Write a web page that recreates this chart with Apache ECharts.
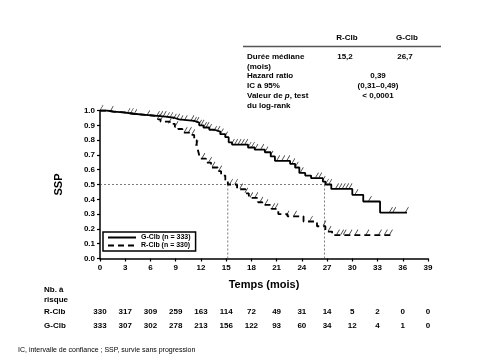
<!DOCTYPE html>
<html><head><meta charset="utf-8">
<script src="https://cdn.jsdelivr.net/npm/echarts@6/dist/echarts.min.js"></script>
<style>html,body{margin:0;padding:0;background:#fff}#c{width:480px;height:360px}</style>
</head><body><div id="c"></div>
<script>
// ---- data ----
const gClb = [[0,1],[0.8,0.993],[1.6,0.987],[2.8,0.978],[4,0.971],[5.4,0.964],[6.8,0.958],[7.8,0.951],[8.8,0.94],[9.4,0.93],[11.2,0.918],[11.8,0.9],[12.3,0.885],[13,0.87],[13.6,0.858],[14.3,0.84],[14.9,0.82],[15.3,0.785],[15.7,0.77],[17.6,0.75],[18.4,0.735],[19.6,0.718],[20.3,0.69],[20.8,0.66],[22.6,0.64],[23.2,0.615],[23.7,0.578],[24.4,0.56],[25.1,0.543],[26.5,0.52],[26.8,0.5],[27.5,0.47],[30,0.43],[31.3,0.385],[33.3,0.31],[36.5,0.31]];
const rClb = [[0,1],[0.8,0.993],[1.6,0.987],[2.8,0.978],[4,0.971],[5.4,0.964],[6.6,0.955],[6.9,0.94],[7.2,0.925],[8.3,0.91],[8.9,0.89],[9.3,0.875],[9.8,0.85],[10.8,0.835],[11.2,0.8],[11.5,0.76],[11.7,0.72],[11.9,0.675],[12.6,0.648],[13.2,0.615],[14.0,0.59],[14.4,0.56],[14.9,0.53],[15.2,0.5],[16.3,0.468],[17.3,0.44],[17.7,0.41],[18.8,0.38],[19.3,0.362],[20.4,0.335],[21.2,0.30],[22.3,0.285],[24.2,0.25],[25.8,0.218],[26.8,0.182],[27.6,0.158],[34.8,0.158]];
const gCensor = [0.2,1.4,3.4,3.8,4.2,5.75,6.9,7.3,7.7,8.1,8.5,8.9,9.3,9.7,10.2,11.0,11.3,11.6,11.9,12.2,12.5,12.8,13.1,13.7,14.1,14.5,15.0,15.8,16.2,16.6,17.0,17.4,17.8,18.2,18.6,19.3,19.8,20.4,21.2,21.8,22.4,23.0,23.4,24.0,25.8,26.2,26.6,27.0,27.4,28.2,28.6,29.0,29.4,29.8,30.5,32.1,34.6,35.0,36.5];
const rCensor = [7.0,7.3,8.3,9.1,10.2,10.7,11.1,11.5,12.3,13.1,13.5,14.3,15.6,16.2,16.8,17.4,18.0,18.6,19.2,19.8,20.6,21.0,22.3,23.2,25.1,26.7,27.3,28.3,28.8,29.1,29.8,30.5,31.8,33.3,34.0,34.6];
const medianR = 15.2, medianG = 26.7;
const xTicks = [0,3,6,9,12,15,18,21,24,27,30,33,36,39];
const riskR = [330,317,309,259,163,114,72,49,31,14,5,2,0,0];
const riskG = [333,307,302,278,213,156,122,93,60,34,12,4,1,0];
const groups = ['G-Clb (n = 333)','R-Clb (n = 330)'];
const tableHead = ['R-Clb','G-Clb'];
const medians = ['15,2','26,7'];

function survAt(curve, t){ let s = curve[0][1]; for (const p of curve){ if (p[0] <= t) s = p[1]; } return s; }

const F = 'Liberation Sans, Arial, sans-serif';
const chart = echarts.init(document.getElementById('c'), null, {renderer:'canvas'});
const tick = 'path://M0,10L4,0';
const option = {
  animation:false,
  backgroundColor:'#fff',
  grid:{left:100, right:52, top:110.5, bottom:101.5},
  xAxis:{type:'value', min:0, max:39, interval:3,
    name:'Temps (mois)', nameLocation:'middle', nameGap:21,
    nameTextStyle:{fontFamily:F, fontWeight:'bold', fontSize:11, color:'#000'},
    axisLine:{lineStyle:{color:'#000', width:1.5}},
    axisTick:{length:3, lineStyle:{color:'#000', width:1.2}},
    axisLabel:{fontFamily:F, fontWeight:'bold', fontSize:8, color:'#000', margin:5},
    splitLine:{show:false}},
  yAxis:{type:'value', min:0, max:1, interval:0.1,
    name:'SSP', nameLocation:'middle', nameGap:36, nameRotate:90,
    nameTextStyle:{fontFamily:F, fontWeight:'bold', fontSize:11, color:'#000'},
    axisLine:{show:true, lineStyle:{color:'#000', width:1.5}},
    axisTick:{show:true, length:3, lineStyle:{color:'#000', width:1.2}},
    axisLabel:{fontFamily:F, fontWeight:'bold', fontSize:8, color:'#000', margin:5, formatter:v=>v.toFixed(1)},
    splitLine:{show:false}},
  legend:{data:groups, orient:'vertical', left:103, top:232, itemWidth:28, itemHeight:6, itemGap:1,
    padding:[2,5,2,4], borderColor:'#000', borderWidth:1.5, backgroundColor:'#fff',
    itemStyle:{opacity:0},
    textStyle:{fontFamily:F, fontWeight:'bold', fontSize:7, color:'#000'}},
  series:[
    {name:'ref', type:'line', data:[[0,0.5],[medianG,0.5]], symbol:'none', silent:true,
      lineStyle:{color:'#444', width:0.7, type:[2,2]}},
    {name:'ref2', type:'line', data:[[medianR,0],[medianR,0.5]], symbol:'none', silent:true,
      lineStyle:{color:'#444', width:0.7, type:[2,2]}},
    {name:'ref3', type:'line', data:[[medianG,0],[medianG,0.5]], symbol:'none', silent:true,
      lineStyle:{color:'#444', width:0.7, type:[2,2]}},
    {name:groups[0], type:'line', step:'end', data:gClb, symbol:'none', color:'#000',
      lineStyle:{color:'#000', width:1.8}},
    {name:groups[1], type:'line', step:'end', data:rClb, symbol:'none', color:'#000',
      lineStyle:{color:'#000', width:1.8, type:[6,4]}},
    {name:'gc', type:'scatter', data:gCensor.map(t=>[t, survAt(gClb,t)]), symbol:tick, symbolSize:[3,5], symbolOffset:[0,-3],
      itemStyle:{color:'none', borderColor:'#000', borderWidth:0.8}, silent:true},
    {name:'rc', type:'scatter', data:rCensor.map(t=>[t, survAt(rClb,t)]), symbol:tick, symbolSize:[3,5], symbolOffset:[0,-3],
      itemStyle:{color:'none', borderColor:'#000', borderWidth:0.8}, silent:true}
  ]
};
chart.setOption(option);

// ---- text elements ----
const g = [];
function txt(x,y,s,opt){ g.push({type:'text', x:x, y:y, style:Object.assign({text:s, fontFamily:F, fontSize:8, fontWeight:'bold', fill:'#000', textVerticalAlign:'middle'}, opt||{})}); }
// summary table
txt(347,38,tableHead[0],{textAlign:'center'});
txt(407,38,tableHead[1],{textAlign:'center'});
g.push({type:'line', shape:{x1:243,y1:46.5,x2:441,y2:46.5}, style:{stroke:'#555', lineWidth:1.3}});
txt(247,57,'Durée médiane');
txt(247,67,'(mois)');
txt(345,57,medians[0],{textAlign:'center'});
txt(405,57,medians[1],{textAlign:'center'});
txt(247,75.5,'Hazard ratio');
txt(378,75.5,'0,39',{textAlign:'center'});
txt(247,85.5,'IC à 95%');
txt(378,85.5,'(0,31–0,49)',{textAlign:'center'});
g.push({type:'text', x:247, y:96, style:{rich:{a:{fontFamily:F,fontSize:8,fontWeight:'bold',fill:'#000'}, i:{fontFamily:F,fontSize:8,fontWeight:'bold',fontStyle:'italic',fill:'#000'}}, text:'{a|Valeur de }{i|p}{a|, test}', textVerticalAlign:'middle'}});
txt(247,106,'du log-rank');
txt(378,96,'< 0,0001',{textAlign:'center'});
// risk table
txt(44,290,'Nb. à');
txt(44,300,'risque');
txt(44,312,'R-Clb');
txt(44,326,'G-Clb');
xTicks.forEach((t,i)=>{
  const px = chart.convertToPixel({xAxisIndex:0}, t);
  txt(px,312,String(riskR[i]),{textAlign:'center'});
  txt(px,326,String(riskG[i]),{textAlign:'center'});
});
txt(18,350,'IC, intervalle de confiance ; SSP, survie sans progression',{fontWeight:'normal', fontSize:7});
chart.setOption({graphic:g});
</script></body></html>
